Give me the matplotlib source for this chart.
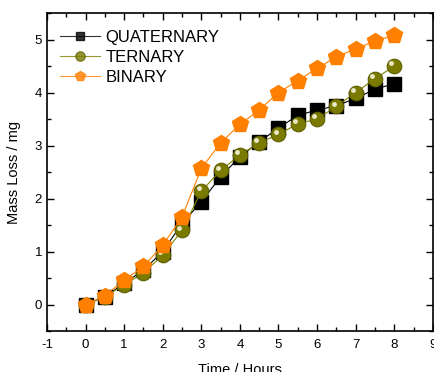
import matplotlib.pyplot as plt
from matplotlib.transforms import ScaledTranslation
from matplotlib.ticker import MultipleLocator

plt.rcParams['font.family'] = ['Liberation Sans', 'DejaVu Sans']
plt.rcParams['axes.unicode_minus'] = False

# data
hours = [0, 0.5, 1, 1.5, 2, 2.5, 3, 3.5, 4, 4.5, 5, 5.5, 6, 6.5, 7, 7.5, 8]
quaternary = [0.0, 0.15, 0.40, 0.65, 1.00, 1.53, 1.94, 2.41, 2.79, 3.07, 3.33,
              3.57, 3.67, 3.75, 3.89, 4.06, 4.17]
ternary = [0.0, 0.15, 0.37, 0.60, 0.93, 1.40, 2.14, 2.53, 2.82, 3.05, 3.21,
           3.41, 3.50, 3.74, 4.00, 4.26, 4.50]
binary = [0.0, 0.17, 0.46, 0.72, 1.12, 1.65, 2.57, 3.05, 3.40, 3.67, 4.00,
          4.22, 4.46, 4.67, 4.83, 4.97, 5.08]

fig = plt.figure(figsize=(4.35, 3.72), dpi=100)
ax = fig.add_axes([0.108, 0.110, 0.887, 0.855])

ax.plot(hours, quaternary, '-', color='black', lw=0.8, marker='s', ms=9.5,
        mfc='black', mec='black', label='QUATERNARY', zorder=3)
ax.plot(hours, ternary, '-', color='#808000', lw=0.8, marker='o', ms=10.5,
        mfc='#7a7a00', mec='#5e5e00', mew=0.8, label='TERNARY', zorder=4)
# highlight on the spheres
hl = ax.transData + ScaledTranslation(-2 / 72, 2 / 72, fig.dpi_scale_trans)
ax.plot(hours, ternary, ls='none', marker='o', ms=3.5, mfc='#e8e8c8',
        mec='none', transform=hl, zorder=4.5)
ax.plot(hours, binary, '-', color='#ff8000', lw=0.8, marker='p', ms=12,
        mfc='#ff8000', mec='#ff8000', label='BINARY', zorder=5)

ax.set_xlim(-1, 9)
ax.set_ylim(-0.5, 5.5)
ax.xaxis.set_major_locator(MultipleLocator(1))
ax.xaxis.set_minor_locator(MultipleLocator(0.5))
ax.yaxis.set_major_locator(MultipleLocator(1))
ax.yaxis.set_minor_locator(MultipleLocator(0.5))
ax.tick_params(which='both', direction='in', top=True, right=True,
               labelsize=9.5, width=1)
ax.tick_params(which='major', length=5)
ax.tick_params(which='minor', length=3)
ax.tick_params(axis='x', which='both', pad=6)
for s in ax.spines.values():
    s.set_linewidth(1.2)

ax.set_xlabel('Time / Hours', fontsize=10.5, labelpad=8)
ax.set_ylabel('Mass Loss / mg', fontsize=10.5, labelpad=10)

leg = ax.legend(loc='upper left', frameon=False, fontsize=12, handlelength=2.4,
                handletextpad=0.3, labelspacing=0.3, borderaxespad=0.4,
                markerscale=0.65, bbox_to_anchor=(0.0, 0.99))
for line in leg.get_lines():
    line.set_alpha(0.8)

fig.savefig('out.png', dpi=100)
